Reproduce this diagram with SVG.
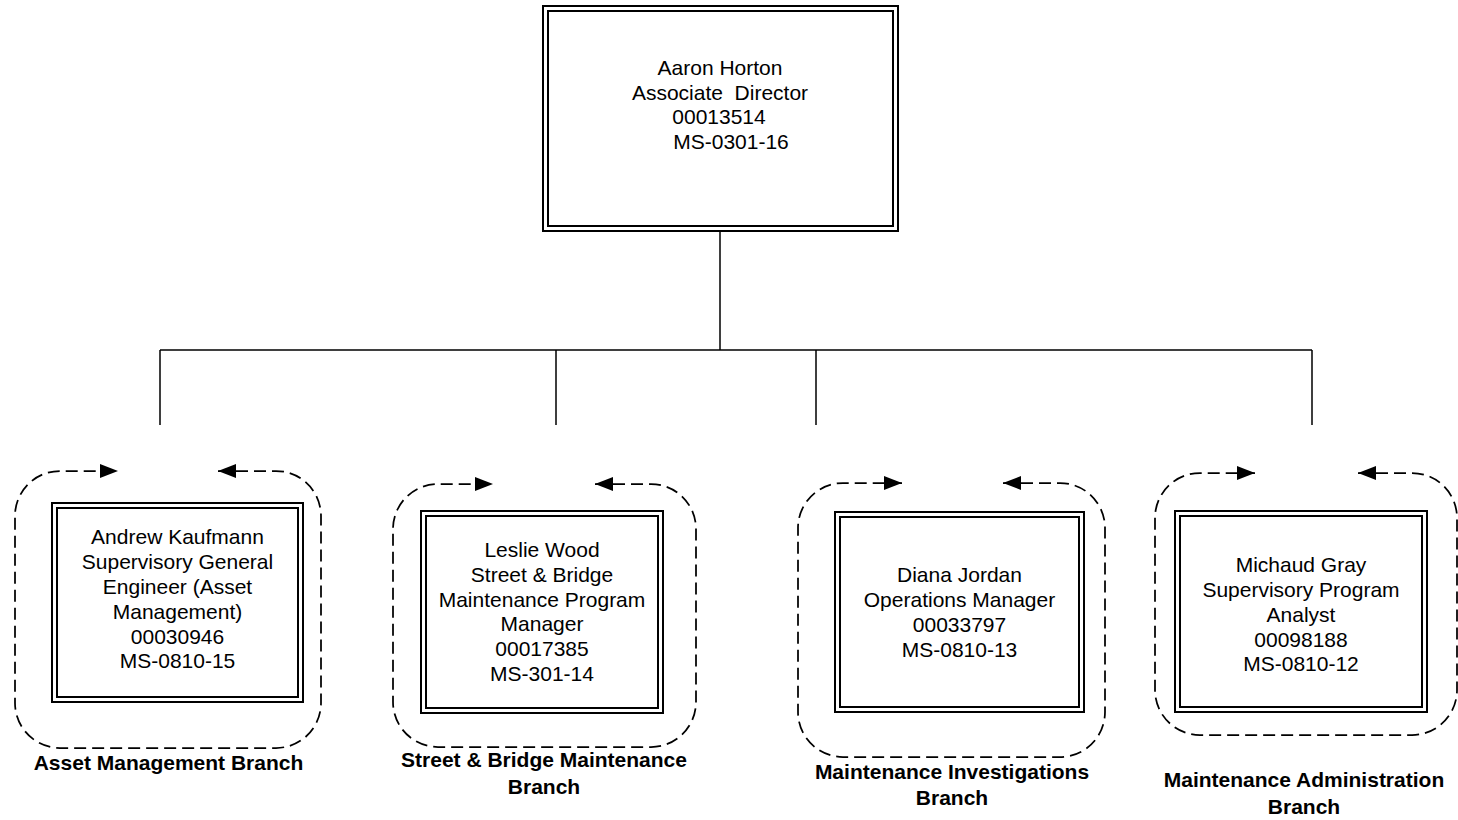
<svg xmlns="http://www.w3.org/2000/svg" width="1458" height="820" viewBox="0 0 1458 820">
<defs>
<style>
.bx{fill:none;stroke:#000;stroke-width:2}
.t{font-family:"Liberation Sans",Arial,sans-serif;font-size:21px;fill:#000;text-anchor:middle}
.lb{font-family:"Liberation Sans",Arial,sans-serif;font-size:21px;font-weight:bold;fill:#000;text-anchor:middle}
.ln{fill:none;stroke:#000;stroke-width:1.5}
.ds{fill:none;stroke:#000;stroke-width:1.75;stroke-dasharray:12 6;marker-start:url(#ah);marker-end:url(#ah)}
</style>
<marker id="ah" markerUnits="userSpaceOnUse" markerWidth="20" markerHeight="16" refX="18" refY="7" orient="auto-start-reverse">
<path d="M0,0 L18,7 L0,14 z" fill="#000"/>
</marker>
</defs>
<rect width="1458" height="820" fill="#fff"/>

<g id="connectors">
<path class="ln" d="M720,231 V350 M160,350 H1312 M160,350 V425 M556,350 V425 M816,350 V425 M1312,350 V425"/>
</g>

<g id="director">
<rect class="bx" x="543" y="6" width="355" height="225"/>
<rect class="bx" x="548" y="11" width="345" height="215"/>
<text class="t" x="720" y="75">Aaron Horton</text>
<text class="t" x="720" y="99.5" xml:space="preserve">Associate  Director</text>
<text class="t" x="719" y="124">00013514</text>
<text class="t" x="731" y="149">MS-0301-16</text>
</g>

<g id="branch-asset">
<path class="ds" d="M218,471 H276 A45,45 0 0 1 321,516 V703 A45,45 0 0 1 276,748 H60 A45,45 0 0 1 15,703 V516 A45,45 0 0 1 60,471 H118"/>
<rect class="bx" x="52" y="503" width="251" height="199"/>
<rect class="bx" x="57" y="508" width="241" height="189"/>
<text class="t" x="177.5" y="544">Andrew Kaufmann</text>
<text class="t" x="177.5" y="569">Supervisory General</text>
<text class="t" x="177.5" y="594">Engineer (Asset</text>
<text class="t" x="177.5" y="619">Management)</text>
<text class="t" x="177.5" y="643.5">00030946</text>
<text class="t" x="177.5" y="668">MS-0810-15</text>
<text class="lb" x="168.5" y="769.5">Asset Management Branch</text>
</g>

<g id="branch-street">
<path class="ds" d="M595,484 H651 A45,45 0 0 1 696,529 V702 A45,45 0 0 1 651,747 H438 A45,45 0 0 1 393,702 V529 A45,45 0 0 1 438,484 H493"/>
<rect class="bx" x="421" y="511" width="242" height="202"/>
<rect class="bx" x="426" y="516" width="232" height="192"/>
<text class="t" x="542" y="557">Leslie Wood</text>
<text class="t" x="542" y="582">Street &amp; Bridge</text>
<text class="t" x="542" y="606.5">Maintenance Program</text>
<text class="t" x="542" y="631">Manager</text>
<text class="t" x="542" y="656">00017385</text>
<text class="t" x="542" y="681">MS-301-14</text>
<text class="lb" x="544" y="767">Street &amp; Bridge Maintenance</text>
<text class="lb" x="544" y="793.5">Branch</text>
</g>

<g id="branch-investigations">
<path class="ds" d="M1003,483 H1060 A45,45 0 0 1 1105,528 V712 A45,45 0 0 1 1060,757 H843 A45,45 0 0 1 798,712 V528 A45,45 0 0 1 843,483 H902"/>
<rect class="bx" x="835" y="512" width="249" height="200"/>
<rect class="bx" x="840" y="517" width="239" height="190"/>
<text class="t" x="959.5" y="582">Diana Jordan</text>
<text class="t" x="959.5" y="607">Operations Manager</text>
<text class="t" x="959.5" y="632">00033797</text>
<text class="t" x="959.5" y="657">MS-0810-13</text>
<text class="lb" x="952" y="778.5">Maintenance Investigations</text>
<text class="lb" x="952" y="804.5">Branch</text>
</g>

<g id="branch-administration">
<path class="ds" d="M1358,473 H1412 A45,45 0 0 1 1457,518 V690 A45,45 0 0 1 1412,735 H1200 A45,45 0 0 1 1155,690 V518 A45,45 0 0 1 1200,473 H1255"/>
<rect class="bx" x="1175" y="511" width="252" height="201"/>
<rect class="bx" x="1180" y="516" width="242" height="191"/>
<text class="t" x="1301" y="571.5">Michaud Gray</text>
<text class="t" x="1301" y="596.5">Supervisory Program</text>
<text class="t" x="1301" y="621.5">Analyst</text>
<text class="t" x="1301" y="646.5">00098188</text>
<text class="t" x="1301" y="671">MS-0810-12</text>
<text class="lb" x="1304" y="787">Maintenance Administration</text>
<text class="lb" x="1304" y="813.5">Branch</text>
</g>
</svg>
